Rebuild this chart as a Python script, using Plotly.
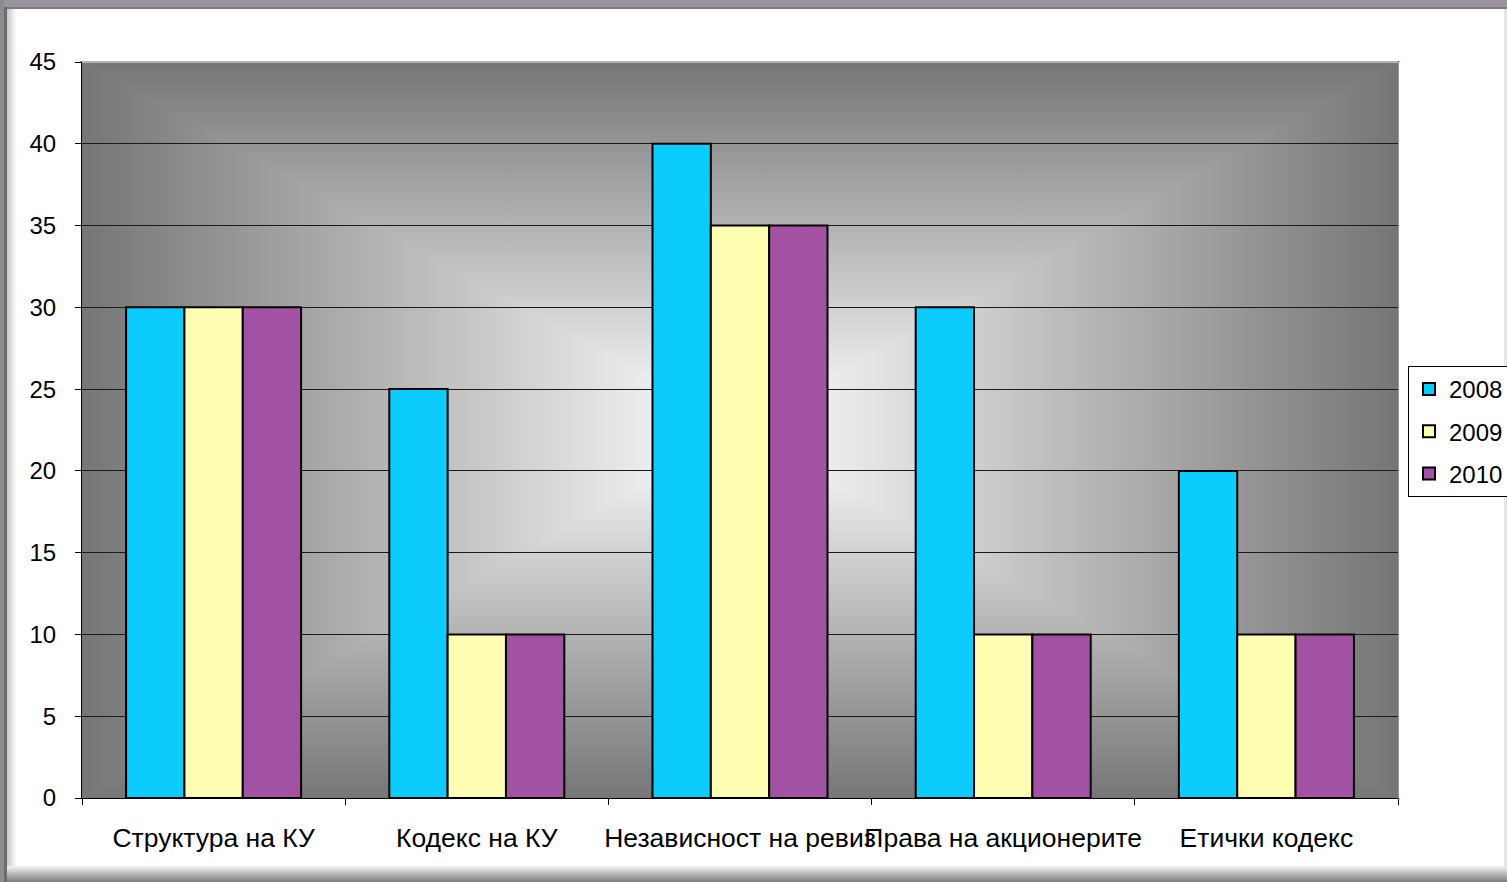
import base64
import plotly.graph_objects as go

categories = ["Структура на КУ", "Кодекс на КУ", "Независност на ревиз", "Права на акционерите", "Етички кодекс"]
years = ["2008", "2009", "2010"]
values_2008 = [30, 25, 40, 30, 20]
values_2009 = [30, 10, 35, 10, 10]
values_2010 = [30, 10, 35, 10, 10]
series = [values_2008, values_2009, values_2010]
colors = ["#0ccbfd", "#fefeb3", "#a352a3"]
y_ticks = [0, 5, 10, 15, 20, 25, 30, 35, 40, 45]

W, H = 1507, 882
L, R, T, B = 82, 1398, 62, 798
PW, PH = R - L, B - T
cx, cy = L + PW / 2, T + PH / 2
edge = "#767676"

svg = f'''<svg xmlns="http://www.w3.org/2000/svg" width="{W}" height="{H}" viewBox="0 0 {W} {H}" preserveAspectRatio="none">
<defs>
<linearGradient id="gt" gradientUnits="userSpaceOnUse" x1="0" y1="{T}" x2="0" y2="{cy}"><stop offset="0" stop-color="{edge}"/><stop offset="1" stop-color="#ffffff"/></linearGradient>
<linearGradient id="gb" gradientUnits="userSpaceOnUse" x1="0" y1="{B}" x2="0" y2="{cy}"><stop offset="0" stop-color="{edge}"/><stop offset="1" stop-color="#ffffff"/></linearGradient>
<linearGradient id="gl" gradientUnits="userSpaceOnUse" x1="{L}" y1="0" x2="{cx}" y2="0"><stop offset="0" stop-color="{edge}"/><stop offset="1" stop-color="#ffffff"/></linearGradient>
<linearGradient id="gr" gradientUnits="userSpaceOnUse" x1="{R}" y1="0" x2="{cx}" y2="0"><stop offset="0" stop-color="{edge}"/><stop offset="1" stop-color="#ffffff"/></linearGradient>
<linearGradient id="sl" x1="0" y1="0" x2="1" y2="0"><stop offset="0" stop-color="#c8c8c8"/><stop offset="1" stop-color="#ffffff"/></linearGradient>
<linearGradient id="sb" x1="0" y1="0" x2="0" y2="1"><stop offset="0" stop-color="#f4f4f4"/><stop offset="0.5" stop-color="#b8b8b8"/><stop offset="1" stop-color="#7c7c7c"/></linearGradient>
</defs>
<rect x="0" y="0" width="{W}" height="{H}" fill="#ffffff"/>
<rect x="0" y="0" width="{W}" height="7" fill="#9b93a0"/>
<rect x="6" y="7" width="{W}" height="2" fill="#7a7a7a"/>
<rect x="0" y="0" width="4" height="{H}" fill="#8e8a92"/>
<rect x="4" y="7" width="3" height="{H}" fill="#6c6c6c"/>
<rect x="7" y="9" width="10" height="{H - 23}" fill="url(#sl)"/>
<rect x="7" y="866" width="{W}" height="16" fill="url(#sb)"/>
<rect x="{W - 3}" y="9" width="3" height="{H - 23}" fill="#e6e6e6"/>
<polygon points="{L},{T} {R},{T} {cx},{cy}" fill="url(#gt)" stroke="url(#gt)" stroke-width="1.5"/>
<polygon points="{L},{B} {R},{B} {cx},{cy}" fill="url(#gb)" stroke="url(#gb)" stroke-width="1.5"/>
<polygon points="{L},{T} {L},{B} {cx},{cy}" fill="url(#gl)" stroke="url(#gl)" stroke-width="1.5"/>
<polygon points="{R},{T} {R},{B} {cx},{cy}" fill="url(#gr)" stroke="url(#gr)" stroke-width="1.5"/>
<rect x="{L}" y="{T - 1}" width="{PW}" height="2" fill="#b4b4b4"/>
</svg>'''
bg_src = "data:image/svg+xml;base64," + base64.b64encode(svg.encode("utf-8")).decode("ascii")

fig = go.Figure()
for name, vals, col in zip(years, series, colors):
    fig.add_trace(go.Bar(
        x=categories, y=vals, name=name, legendgroup=name,
        marker=dict(color=col, line=dict(color="#000000", width=2)),
    ))

font_family = "Arial, Liberation Sans, sans-serif"
fig.update_layout(
    width=W, height=H, autosize=False,
    margin=dict(l=L, r=W - R, t=T, b=H - B, pad=0, autoexpand=False),
    paper_bgcolor="#ffffff",
    plot_bgcolor="rgba(0,0,0,0)",
    barmode="group",
    bargap=0.335,
    bargroupgap=0,
    font=dict(family=font_family, size=24, color="#000000"),
    showlegend=True,
    legend=dict(
        x=(1408 - L) / PW, xanchor="left",
        y=(B - 366) / PH, yanchor="top",
        bgcolor="#ffffff", bordercolor="#000000", borderwidth=1,
        font=dict(family=font_family, size=24, color="#000000"),
        traceorder="grouped", tracegroupgap=8, itemwidth=30,
    ),
    xaxis=dict(
        type="category", categoryorder="array", categoryarray=categories,
        showgrid=False, showline=True, linecolor="#000000", linewidth=1,
        ticks="outside", tickson="boundaries", ticklen=6, tickcolor="#000000",
        ticklabelstandoff=16, tickfont=dict(size=26.5), tickangle=0, automargin=False,
    ),
    yaxis=dict(
        range=[0, 45], tickvals=y_ticks, showgrid=True, gridcolor="#1a1a1a", gridwidth=1,
        showline=True, linecolor="#000000", linewidth=1, zeroline=False,
        ticks="outside", ticklen=6, tickcolor="#000000",
        ticklabelstandoff=14, tickfont=dict(size=24), automargin=False,
    ),
    images=[dict(
        source=bg_src, xref="paper", yref="paper",
        x=-L / PW, y=1 + T / PH, sizex=W / PW, sizey=H / PH,
        xanchor="left", yanchor="top", sizing="stretch", layer="below",
    )],
    shapes=[dict(
        type="line", xref="paper", yref="paper", x0=0, x1=1, y0=1, y1=1,
        line=dict(color="#b4b4b4", width=2), layer="between",
    )],
)

fig.write_html(
    "out.html",
    config={"displayModeBar": False},
    post_script="document.body.style.margin='0';document.body.style.overflow='hidden';",
)
